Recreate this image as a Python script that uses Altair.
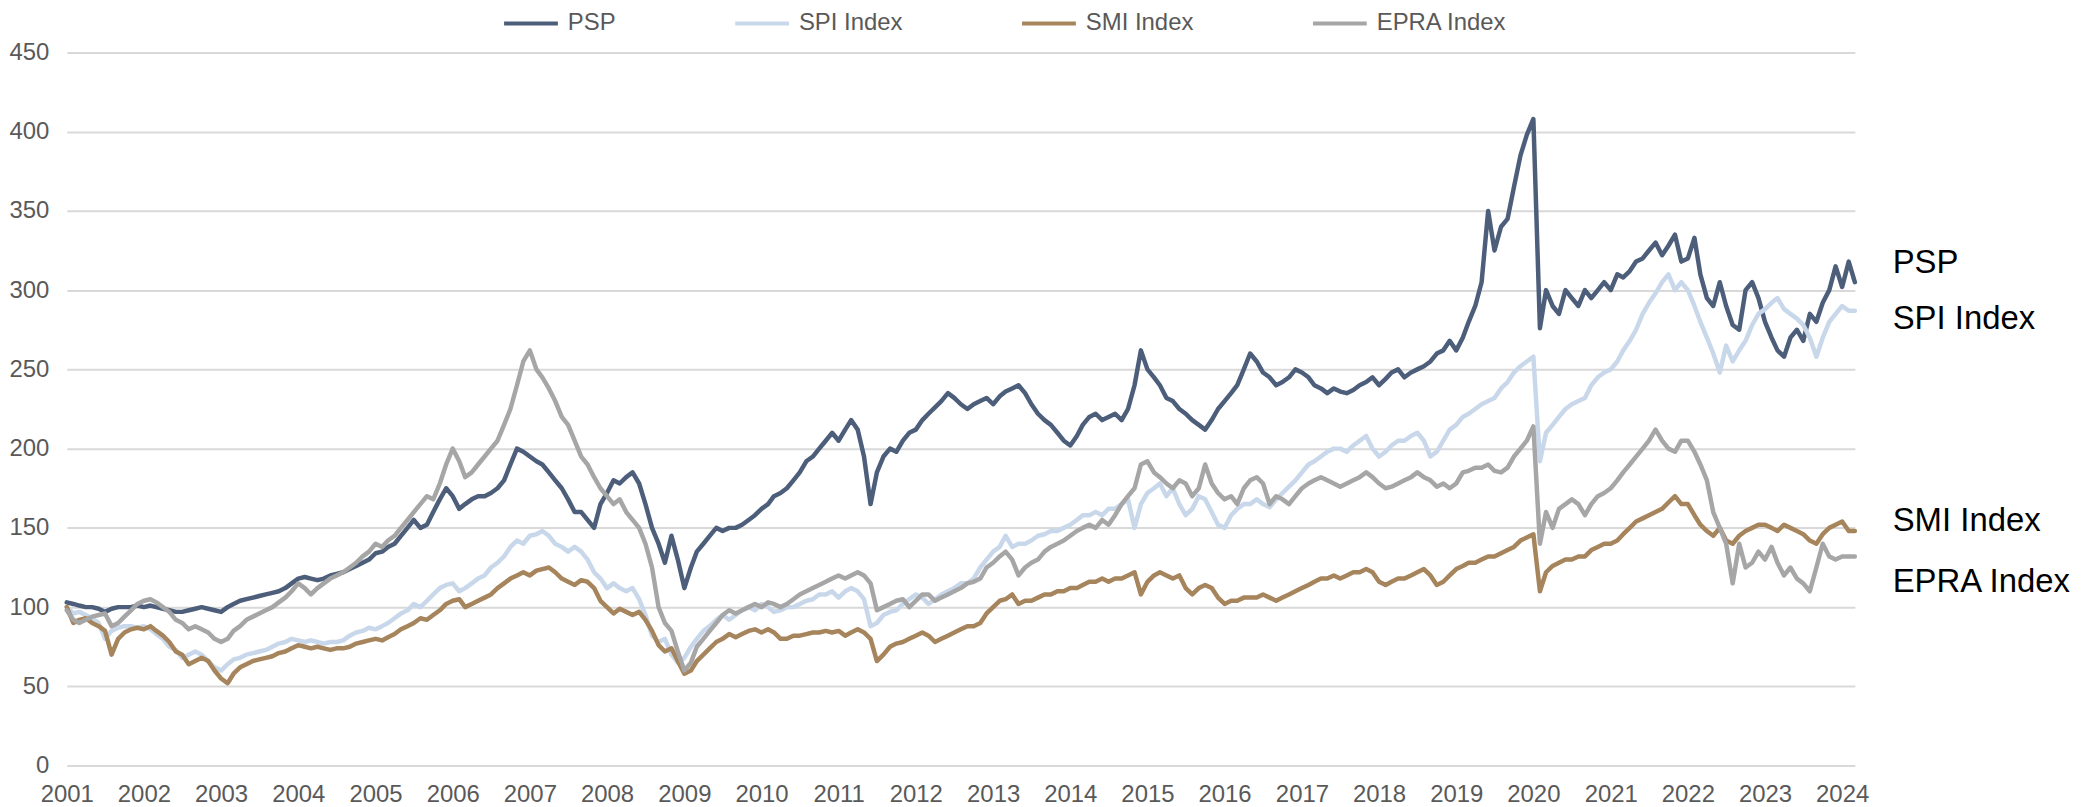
import altair as alt
import pandas as pd

series_names = ["PSP", "SPI Index", "SMI Index", "EPRA Index"]
series_colors = ["#4d5e7b", "#c8d8ea", "#a6845c", "#a6a6a6"]
year_ticks = list(range(2001, 2025))
y_ticks = list(range(0, 451, 50))

# monthly readings, Jan 2001 .. Mar 2024
psp = [
    103,102,101,100,100,99,97,99,100,100,100,101,
    100,101,100,99,98,97,97,98,99,100,99,98,
    97,100,102,104,105,106,107,108,109,110,112,115,
    118,119,118,117,118,120,121,122,124,126,128,130,
    134,135,138,140,145,150,155,150,152,160,168,175,
    170,162,165,168,170,170,172,175,180,190,200,198,
    195,192,190,185,180,175,168,160,160,155,150,165,
    172,180,178,182,185,178,165,150,140,128,145,130,
    112,125,135,140,145,150,148,150,150,152,155,158,
    162,165,170,172,175,180,185,192,195,200,205,210,
    205,212,218,212,195,165,185,195,200,198,205,210,
    212,218,222,226,230,235,232,228,225,228,230,232,
    228,233,236,238,240,235,228,222,218,215,210,205,
    202,208,215,220,222,218,220,222,218,225,240,262,
    250,245,240,232,230,225,222,218,215,212,218,225,
    230,235,240,250,260,255,248,245,240,242,245,250,
    248,245,240,238,235,238,236,235,237,240,242,245,
    240,244,248,250,245,248,250,252,255,260,262,268,
    262,270,280,290,305,350,325,340,345,365,385,398,
    408,276,300,290,285,300,295,290,300,295,300,305,
    300,310,308,312,318,320,325,330,322,328,335,318,
    320,333,310,295,290,305,290,278,275,300,305,295,
    280,270,262,258,270,275,268,285,280,292,300,315,
    302,318,305,
]
spi = [
    100,96,97,95,93,90,80,85,87,88,88,87,
    88,86,83,80,75,73,68,70,72,70,66,62,
    60,64,67,68,70,71,72,73,75,77,78,80,
    79,78,79,78,77,78,78,79,82,84,85,87,
    86,88,90,93,96,98,102,100,104,108,112,114,
    115,110,112,115,118,120,125,128,132,138,142,140,
    145,146,148,145,140,138,135,138,135,130,122,118,
    112,115,112,110,112,105,95,82,78,80,70,65,
    68,75,80,85,88,92,95,92,95,98,100,98,
    102,100,97,98,100,100,102,104,105,108,108,110,
    106,110,112,110,105,88,90,95,97,98,102,105,
    108,106,102,105,108,110,112,115,115,118,125,130,
    135,138,145,138,140,140,142,145,146,148,148,150,
    152,155,158,158,160,158,162,162,165,168,150,165,
    172,175,178,170,175,165,158,162,170,168,160,152,
    150,158,162,165,165,168,165,163,168,172,176,180,
    185,190,192,195,198,200,200,198,202,205,208,200,
    195,198,202,205,205,208,210,205,195,198,205,212,
    215,220,222,225,228,230,232,238,242,248,252,255,
    258,192,210,215,220,225,228,230,232,240,245,248,
    250,255,262,268,275,285,292,298,305,310,300,305,
    300,290,280,270,260,248,265,255,262,268,278,285,
    288,292,295,288,285,282,278,270,258,270,280,285,
    290,287,287,
]
smi = [
    100,90,92,93,90,88,85,70,80,84,86,87,
    86,88,85,82,78,72,70,64,66,68,66,60,
    55,52,58,62,64,66,67,68,69,71,72,74,
    76,75,74,75,74,73,74,74,75,77,78,79,
    80,79,81,83,86,88,90,93,92,95,98,102,
    104,105,100,102,104,106,108,112,115,118,120,122,
    120,123,124,125,122,118,116,114,117,116,112,104,
    100,96,99,97,95,97,92,85,76,72,74,66,
    58,60,66,70,74,78,80,83,81,83,85,86,
    84,86,84,80,80,82,82,83,84,84,85,84,
    85,82,84,86,84,80,66,70,75,77,78,80,
    82,84,82,78,80,82,84,86,88,88,90,96,
    100,104,105,108,102,104,104,106,108,108,110,110,
    112,112,114,116,116,118,116,118,118,120,122,108,
    116,120,122,120,118,120,112,108,112,114,112,106,
    102,104,104,106,106,106,108,106,104,106,108,110,
    112,114,116,118,118,120,118,120,122,122,124,122,
    116,114,116,118,118,120,122,124,120,114,116,120,
    124,126,128,128,130,132,132,134,136,138,142,144,
    146,110,122,126,128,130,130,132,132,136,138,140,
    140,142,146,150,154,156,158,160,162,166,170,165,
    165,158,152,148,145,150,142,140,145,148,150,152,
    152,150,148,152,150,148,146,142,140,146,150,152,
    154,148,148,
]
epra = [
    98,92,90,92,94,95,96,88,90,94,98,102,
    104,105,103,100,97,92,90,86,88,86,84,80,
    78,80,85,88,92,94,96,98,100,103,106,110,
    115,112,108,112,115,118,120,122,125,128,132,135,
    140,138,142,145,150,155,160,165,170,168,178,190,
    200,192,182,185,190,195,200,205,215,225,240,255,
    262,250,245,238,230,220,215,205,195,190,182,175,
    170,165,168,160,155,150,140,125,100,90,85,72,
    60,65,75,80,85,90,95,98,96,98,100,102,
    100,103,102,100,102,105,108,110,112,114,116,118,
    120,118,120,122,120,115,98,100,102,104,105,100,
    104,108,108,104,106,108,110,112,115,116,118,125,
    128,132,135,130,120,125,128,130,135,138,140,142,
    145,148,150,152,150,155,152,158,165,170,175,190,
    192,185,182,178,175,180,178,170,175,190,178,172,
    168,170,165,175,180,182,178,165,170,168,165,170,
    175,178,180,182,180,178,176,178,180,182,185,182,
    178,175,176,178,180,182,185,182,180,176,178,175,
    178,185,186,188,188,190,186,185,188,195,200,205,
    214,140,160,150,162,165,168,165,158,165,170,172,
    175,180,185,190,195,200,205,212,205,200,198,205,
    205,198,190,180,160,150,140,115,140,125,128,135,
    130,138,128,120,125,118,115,110,125,140,132,130,
    132,132,132,
]

# right-hand labels (value level where each name is written)
label_levels = [317, 282, 154, 116]

dates = pd.date_range("2001-01-01", periods=len(psp), freq="MS")
rows = []
for name, vals in zip(series_names, [psp, spi, smi, epra]):
    for d, v in zip(dates, vals):
        rows.append({"date": d, "series": name, "value": v})
df = pd.DataFrame(rows)

lab = pd.DataFrame({
    "date": [dates[-1]] * 4,
    "series": series_names,
    "value": label_levels,
})

FONT = "Liberation Sans"

x_enc = alt.X(
    "date:T",
    scale=alt.Scale(domain=[alt.DateTime(year=2001, month=1, date=1),
                            alt.DateTime(year=2024, month=3, date=1)]),
    axis=alt.Axis(
        values=[alt.DateTime(year=y, month=1, date=1) for y in year_ticks],
        format="%Y", grid=False, domain=False, ticks=False,
        labelFontSize=24, labelColor="#595959", labelPadding=17,
        labelFont=FONT, title=None, labelOverlap=False, labelFlush=False,
    ),
)
y_enc = alt.Y(
    "value:Q",
    scale=alt.Scale(domain=[0, 450], nice=False),
    axis=alt.Axis(
        values=y_ticks, grid=True, gridColor="#d9d9d9", gridWidth=2,
        domain=False, ticks=False, labelFontSize=24, labelColor="#595959",
        labelPadding=18, labelFont=FONT, title=None,
    ),
)

lines = alt.Chart(df).mark_line(strokeWidth=4.5, strokeJoin="round", strokeCap="round").encode(
    x=x_enc,
    y=y_enc,
    color=alt.Color(
        "series:N",
        scale=alt.Scale(domain=series_names, range=series_colors),
        legend=alt.Legend(
            orient="none", legendX=437, legendY=-58, direction="horizontal",
            title=None, symbolType="stroke", symbolSize=2916,
            symbolStrokeWidth=4, labelFontSize=24, labelColor="#595959",
            labelFont=FONT, labelOffset=8, columnPadding=111,
            labelLimit=300,
        ),
    ),
    detail="series:N",
)

labels = alt.Chart(lab).mark_text(
    align="left", baseline="middle", dx=38, fontSize=33, font=FONT, color="#000000"
).encode(
    x=alt.X("date:T"),
    y=alt.Y("value:Q"),
    text="series:N",
)

chart = alt.layer(lines, labels).properties(
    width=1795, height=716,
    autosize=alt.AutoSizeParams(type="none"),
    padding={"left": 59, "top": 43, "right": 220, "bottom": 45},
).configure_view(stroke=None)

chart.save("out.html", embed_options={"renderer": "svg", "actions": False})
